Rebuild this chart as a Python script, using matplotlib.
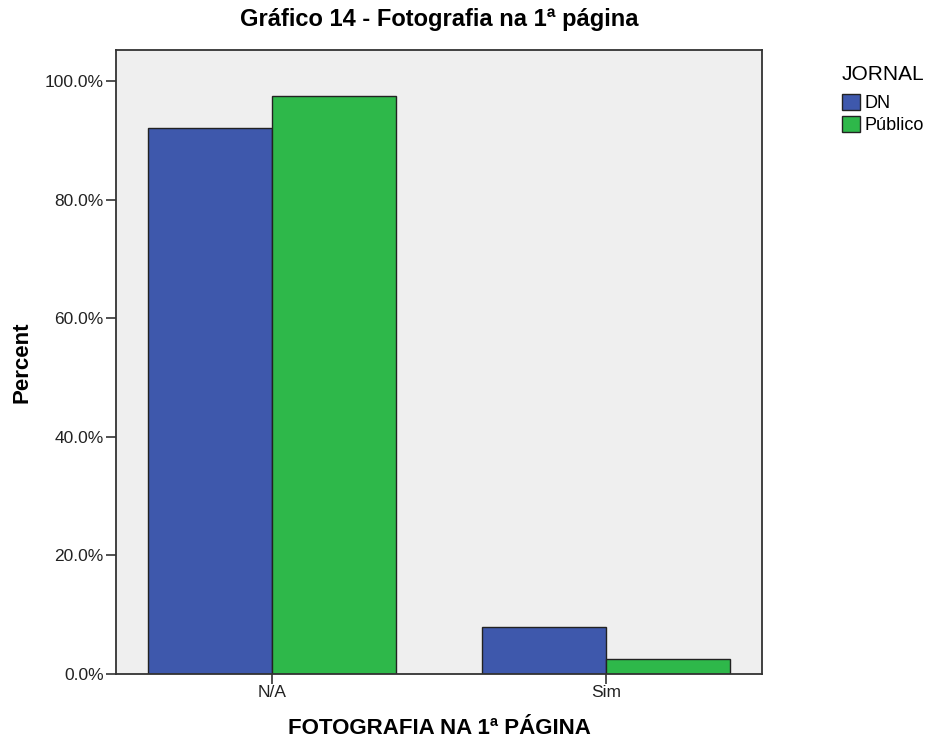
import matplotlib.pyplot as plt
import numpy as np

plt.rcParams['font.family'] = ['Liberation Sans', 'DejaVu Sans']

categorias = ["N/A", "Sim"]
jornais = ["DN", "Público"]
dn = [92.1, 7.9]
publico = [97.4, 2.6]
cores = ["#3e58ac", "#2eb84a"]

fig = plt.figure(figsize=(9.26, 7.38), dpi=100)
ax = fig.add_axes([0.1253, 0.0867, 0.6976, 0.8455])
ax.set_facecolor("#efefef")

x = np.arange(len(categorias))
w = 0.37
ax.bar(x - w / 2, dn, width=w, color=cores[0], edgecolor="#222222", linewidth=1.0, label=jornais[0])
ax.bar(x + w / 2, publico, width=w, color=cores[1], edgecolor="#222222", linewidth=1.0, label=jornais[1])

ax.set_xlim(-0.466, 1.466)
ax.set_ylim(0, 105.2)
ax.set_yticks(np.arange(0, 101, 20))
ax.set_yticklabels([f"{v:.1f}%" for v in np.arange(0, 101, 20)])
ax.set_xticks(x)
ax.set_xticklabels(categorias)
ax.tick_params(axis='both', labelsize=12.5, colors="#333333", labelcolor="#222222", length=7, width=1.2, pad=2)
ax.tick_params(axis='x', pad=1)
for s in ax.spines.values():
    s.set_color("#333333")
    s.set_linewidth(1.3)

ax.set_xlabel("FOTOGRAFIA NA 1ª PÁGINA", fontsize=16, fontweight='bold', labelpad=13)
ax.set_ylabel("Percent", fontsize=16, fontweight='bold', labelpad=9)
ax.set_title("Gráfico 14 - Fotografia na 1ª página", fontsize=17, fontweight='bold', pad=17)

leg = ax.legend(title="JORNAL", loc="upper left", bbox_to_anchor=(842 / 926, 1 - 65 / 738),
                bbox_transform=fig.transFigure, frameon=False,
                fontsize=13, title_fontsize=15, handlelength=1.0, handleheight=0.95,
                handletextpad=0.22, labelspacing=0.2, borderaxespad=0, borderpad=0)
leg._legend_box.align = "left"
leg._legend_box.sep = 7.5

fig.savefig("out.png", dpi=100)
